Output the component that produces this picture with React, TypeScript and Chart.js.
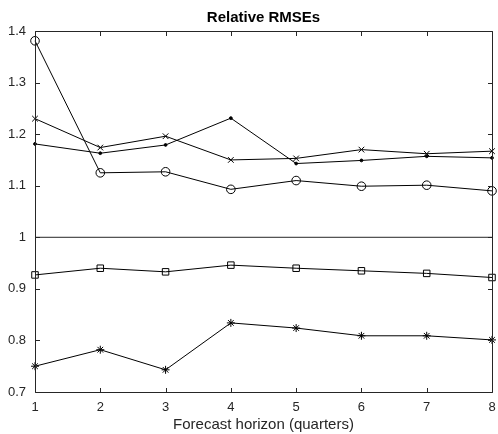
import React, { useEffect, useRef } from "react";
import { Chart, registerables } from "chart.js";

Chart.register(...registerables);

const chartTitle = "Relative RMSEs";
const xAxisTitle = "Forecast horizon (quarters)";
const horizons = [1, 2, 3, 4, 5, 6, 7, 8];
const xTickLabels = ["1", "2", "3", "4", "5", "6", "7", "8"];
const yTicks = [0.7, 0.8, 0.9, 1.0, 1.1, 1.2, 1.3, 1.4];
const yTickLabels = ["0.7", "0.8", "0.9", "1", "1.1", "1.2", "1.3", "1.4"];

const circleSeries = [1.381, 1.125, 1.127, 1.093, 1.11, 1.099, 1.101, 1.09];
const crossSeries = [1.23, 1.174, 1.196, 1.15, 1.153, 1.17, 1.162, 1.167];
const dotSeries = [1.181, 1.163, 1.179, 1.231, 1.143, 1.149, 1.157, 1.154];
const squareSeries = [0.927, 0.94, 0.933, 0.946, 0.94, 0.935, 0.93, 0.922];
const starSeries = [0.75, 0.782, 0.743, 0.834, 0.824, 0.809, 0.809, 0.801];
const referenceLevel = [1, 1];
const referenceSpan = [1, 8];

const AXIS_COLOR = "#262626";
const FONT = "'Liberation Sans', Arial, Helvetica, sans-serif";
const PLOT_RIGHT = 492;

const toPoints = (vals: number[]) => vals.map((y, i) => ({ x: horizons[i], y }));

const boxPlugin = {
  id: "matlabBox",
  afterDraw(chart: any) {
    const { ctx, chartArea } = chart;
    const { left, right, top, bottom } = chartArea;
    const xs = chart.scales.x;
    const ys = chart.scales.y;
    const tl = 4.5;
    ctx.save();
    ctx.strokeStyle = AXIS_COLOR;
    ctx.lineWidth = 1;
    ctx.beginPath();
    const L = Math.round(left) + 0.5;
    const R = Math.round(right) + 0.5;
    const T = Math.round(top) + 0.5;
    const B = Math.round(bottom) + 0.5;
    ctx.rect(L, T, R - L, B - T);
    horizons.forEach((h) => {
      const px = Math.round(xs.getPixelForValue(h)) + 0.5;
      ctx.moveTo(px, B);
      ctx.lineTo(px, B - tl);
      ctx.moveTo(px, T);
      ctx.lineTo(px, T + tl);
    });
    yTicks.forEach((v) => {
      const py = Math.round(ys.getPixelForValue(v)) + 0.5;
      ctx.moveTo(L, py);
      ctx.lineTo(L + tl, py);
      ctx.moveTo(R, py);
      ctx.lineTo(R - tl, py);
    });
    ctx.stroke();
    ctx.fillStyle = "#000";
    ctx.font = `bold 15px ${FONT}`;
    ctx.textAlign = "center";
    ctx.textBaseline = "alphabetic";
    ctx.fillText(chartTitle, (left + right) / 2, 21.5);
    ctx.restore();
  },
};

export default function App() {
  const ref = useRef<HTMLCanvasElement | null>(null);
  useEffect(() => {
    if (!ref.current) return;
    const common = {
      borderColor: "#000",
      backgroundColor: "#000",
      borderWidth: 1,
      pointBorderWidth: 1,
      pointBorderColor: "#000",
      fill: false,
      tension: 0,
      clip: false as any,
    };
    const chart = new Chart(ref.current, {
      type: "line",
      data: {
        datasets: [
          {
            ...common,
            label: "reference",
            data: referenceSpan.map((x, i) => ({ x, y: referenceLevel[i] })),
            pointRadius: 0,
            borderColor: AXIS_COLOR,
          },
          {
            ...common,
            label: "circles",
            data: toPoints(circleSeries),
            pointStyle: "circle",
            pointRadius: 4.3,
            pointBackgroundColor: "rgba(0,0,0,0)",
          },
          {
            ...common,
            label: "crosses",
            data: toPoints(crossSeries),
            pointStyle: "crossRot",
            pointRadius: 4,
          },
          {
            ...common,
            label: "dots",
            data: toPoints(dotSeries),
            pointStyle: "circle",
            pointRadius: 1.4,
            pointBackgroundColor: "#000",
          },
          {
            ...common,
            label: "squares",
            data: toPoints(squareSeries),
            pointStyle: "rect",
            pointRadius: 4.6,
            pointBackgroundColor: "rgba(0,0,0,0)",
          },
          {
            ...common,
            label: "stars",
            data: toPoints(starSeries),
            pointStyle: "star",
            pointRadius: 4,
          },
        ],
      },
      options: {
        responsive: false,
        animation: false,
        devicePixelRatio: 1,
        layout: { padding: { top: 31, right: 0, left: 0, bottom: 0 } },
        plugins: {
          legend: { display: false },
          title: { display: false },
          tooltip: { enabled: false },
        },
        scales: {
          x: {
            type: "linear",
            min: 1,
            max: 8,
            grid: { display: false, drawTicks: false },
            border: { display: false },
            afterBuildTicks: (scale: any) => {
              scale.ticks = horizons.map((v) => ({ value: v }));
            },
            afterFit: (scale: any) => {
              scale.height = 42;
              scale.paddingRight = 498 - PLOT_RIGHT;
            },
            ticks: {
              autoSkip: false,
              maxRotation: 0,
              padding: 8,
              color: AXIS_COLOR,
              font: { family: FONT, size: 13 },
              callback: (_v: any, i: number) => xTickLabels[i],
            },
            title: {
              display: true,
              text: xAxisTitle,
              color: AXIS_COLOR,
              font: { family: FONT, size: 15 },
              padding: { top: 0, bottom: 0 },
            },
          },
          y: {
            type: "linear",
            min: 0.7,
            max: 1.4,
            grid: { display: false, drawTicks: false },
            border: { display: false },
            afterBuildTicks: (scale: any) => {
              scale.ticks = yTicks.map((v) => ({ value: v }));
            },
            afterFit: (scale: any) => {
              scale.width = 35;
            },
            ticks: {
              autoSkip: false,
              padding: 9,
              color: AXIS_COLOR,
              font: { family: FONT, size: 13 },
              callback: (_v: any, i: number) => yTickLabels[i],
            },
          },
        },
      },
      plugins: [boxPlugin],
    });
    return () => chart.destroy();
  }, []);
  return (
    <div style={{ position: "fixed", left: 0, top: 0, width: 498, height: 434, background: "#fff" }}>
      <canvas ref={ref} width={498} height={434} style={{ width: 498, height: 434 }} />
    </div>
  );
}
